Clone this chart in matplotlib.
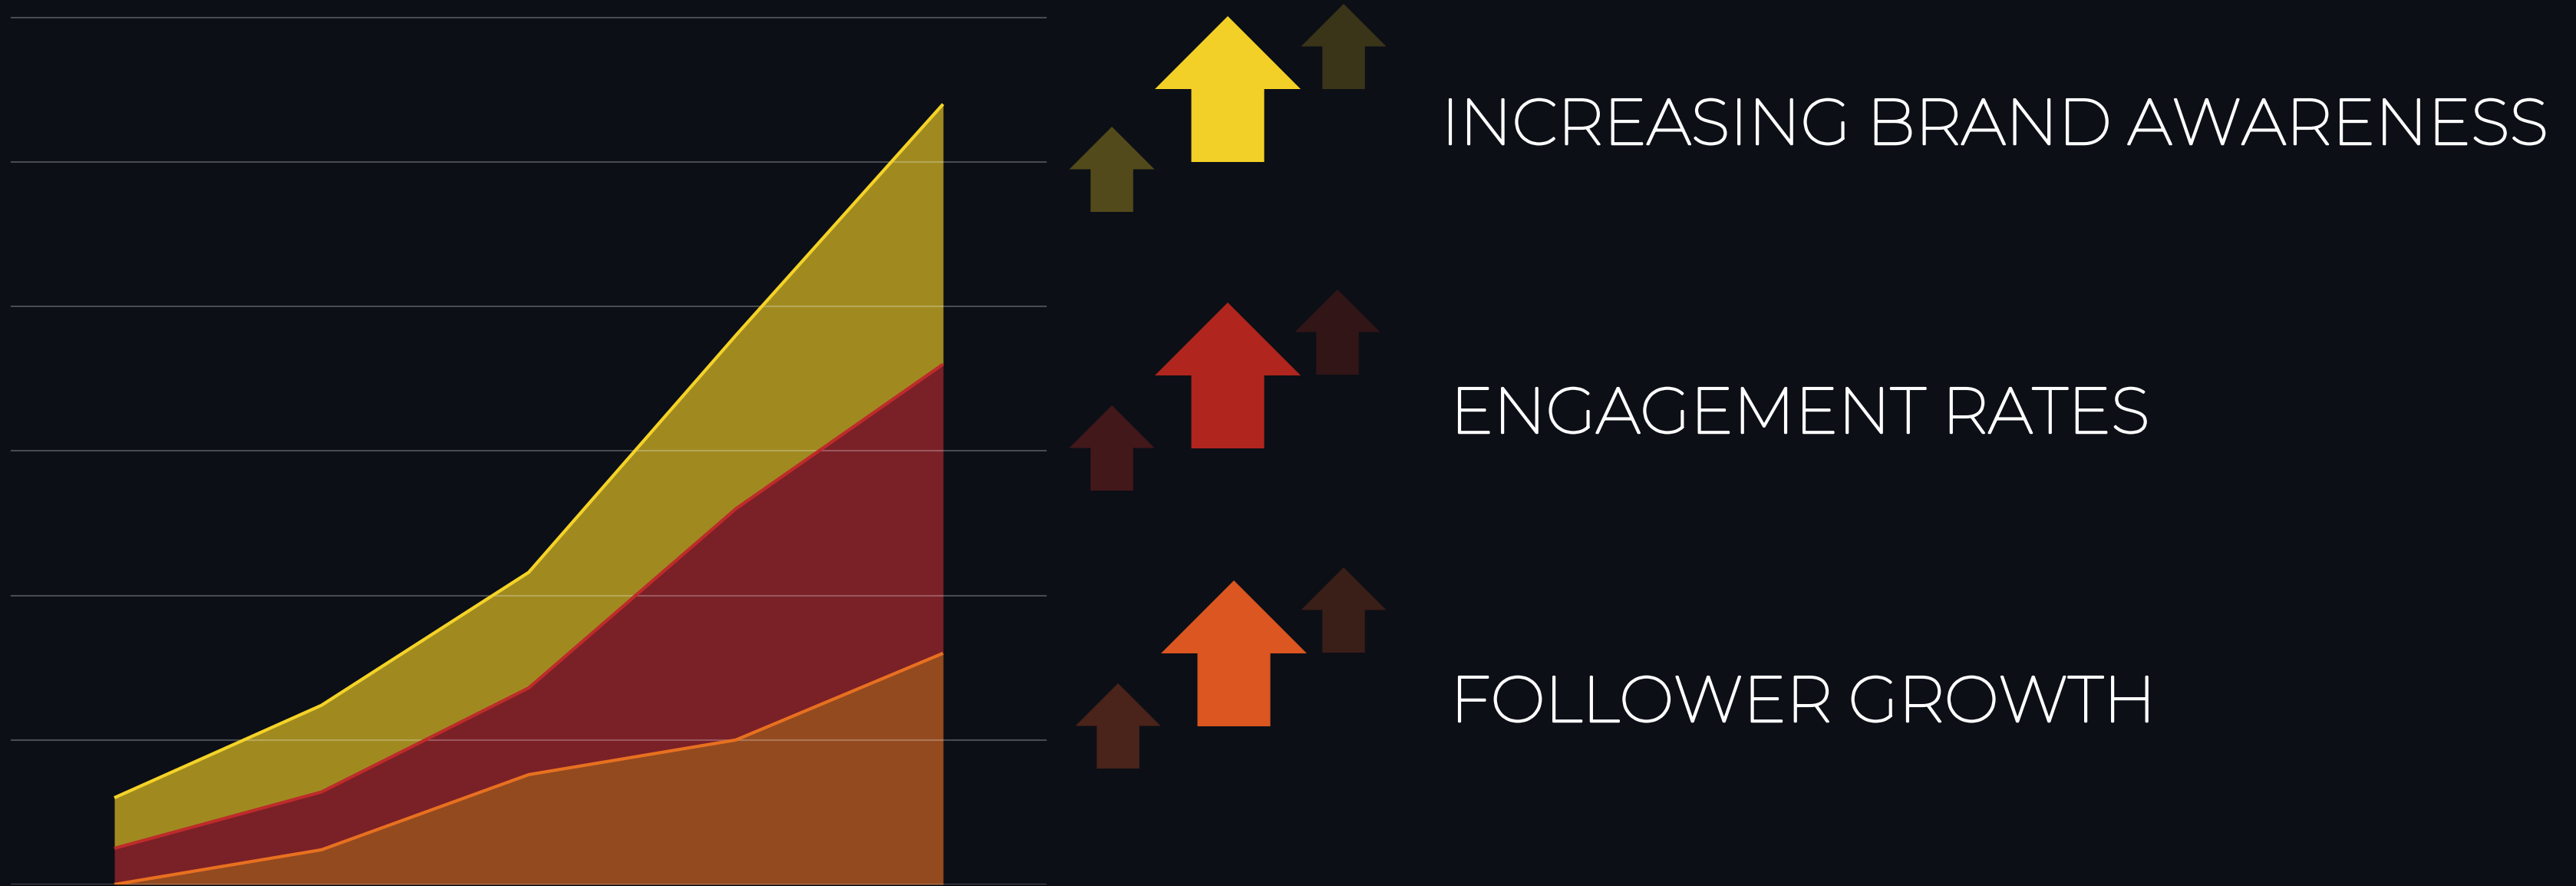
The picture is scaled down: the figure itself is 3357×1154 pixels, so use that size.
import matplotlib
matplotlib.use("Agg")
import matplotlib.pyplot as plt
import matplotlib.patheffects as pe
from matplotlib.patches import Polygon
from matplotlib import font_manager

# stacked area values (grid step = 10)
periods = [0, 1, 2, 3, 4]
follower_growth = [0, 2.4, 7.6, 10, 16]
engagement_rates = [2.5, 4.0, 6.0, 16, 20]
brand_awareness = [3.5, 6.0, 8.0, 12, 18]
labels = ["FOLLOWER GROWTH", "ENGAGEMENT RATES", "INCREASING BRAND AWARENESS"]

bg = "#0c0f16"
line_colors = ["#e8701f", "#be2b2a", "#f5d327"]
fill_colors = ["#934a1f", "#7a2027", "#a08a20"]

W, H = 3357, 1154
fig = plt.figure(figsize=(W / 100, H / 100), dpi=100, facecolor=bg)

ax = fig.add_axes([14 / W, 2 / H, 1350 / W, 1150 / H])
ax.set_facecolor(bg)
ax.set_xlim(-0.5, 4.5)
ax.set_ylim(0, 61.1)

series = [follower_growth, engagement_rates, brand_awareness]
base = [0] * len(periods)
for vals, lc, fc in zip(series, line_colors, fill_colors):
    top = [b + v for b, v in zip(base, vals)]
    ax.fill_between(periods, base, top, color=fc, linewidth=0, zorder=1)
    ax.plot(periods, top, color=lc, lw=3, zorder=3, solid_capstyle="butt")
    base = top

for y in range(0, 70, 10):
    ax.axhline(y, color="white", alpha=0.25, lw=1.5, zorder=2)
for s in ax.spines.values():
    s.set_visible(False)
ax.set_xticks([])
ax.set_yticks([])

# overlay in pixel coordinates for the arrows and labels
ov = fig.add_axes([0, 0, 1, 1])
ov.set_xlim(0, W)
ov.set_ylim(H, 0)
ov.axis("off")
ov.patch.set_alpha(0)


def arrow(cx, tip, size, color):
    h = size / 2
    q = size / 4
    pts = [(cx, tip), (cx + h, tip + h), (cx + q, tip + h), (cx + q, tip + size),
           (cx - q, tip + size), (cx - q, tip + h), (cx - h, tip + h)]
    ov.add_patch(Polygon(pts, closed=True, facecolor=color, edgecolor="none"))


# (center x, tip y) of left / big / right arrows for each row, top to bottom
arrow_rows = [
    ((1449, 165), (1600, 21), (1751, 5), "#524a1a", "#f2d027", "#3a3419"),
    ((1449, 528), (1600, 394), (1743, 377), "#42181a", "#b0251e", "#311517"),
    ((1457, 890), (1608, 756), (1751, 739), "#4a231a", "#db5620", "#3a1e18"),
]
for l, b, r, cl, cb, cr in arrow_rows:
    arrow(*l, 111, cl)
    arrow(*b, 190, cb)
    arrow(*r, 111, cr)

# only the variable Montserrat file is installed (renders thin), so thicken with a stroke
avail = {f.name for f in font_manager.fontManager.ttflist}
fam = "Montserrat" if "Montserrat" in avail else "Lato"
thick = [pe.Stroke(linewidth=1.8, foreground="white", joinstyle="round"), pe.Normal()]

text_pos = [(1890, 940), (1890, 564), (1878, 188)]
for lab, (x, y) in zip(labels, text_pos):
    ov.text(x, y, lab, color="white", fontsize=60.5, family=fam,
            va="baseline", ha="left", path_effects=thick)

fig.savefig("out.png", dpi=100, facecolor=bg)
